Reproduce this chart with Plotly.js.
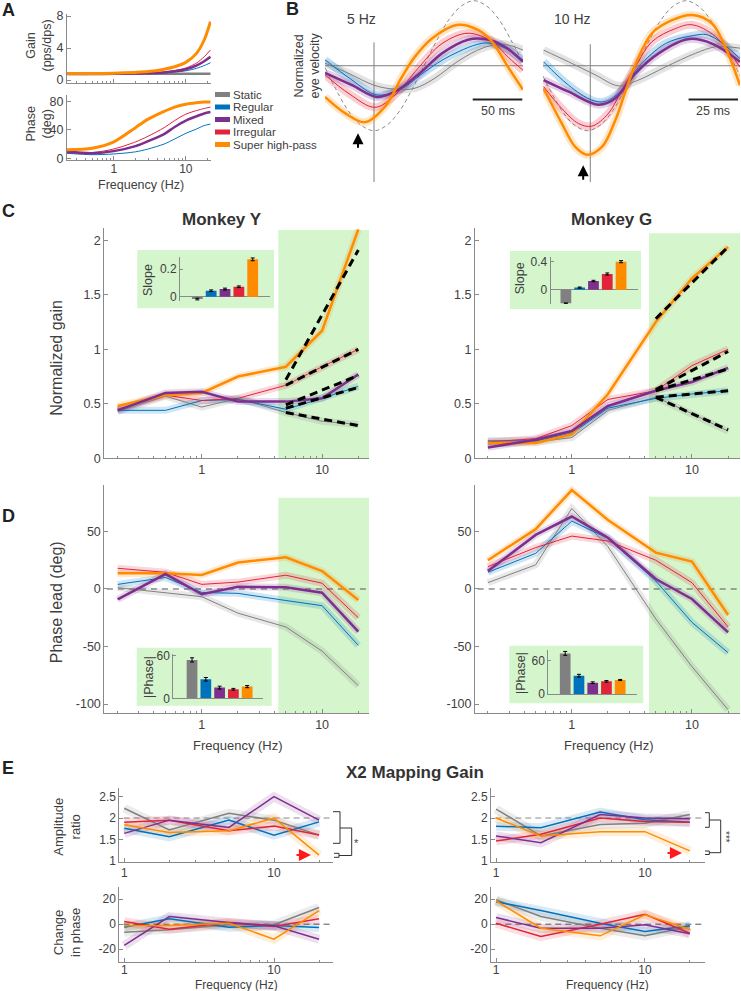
<!DOCTYPE html>
<html><head><meta charset="utf-8">
<script src="https://cdn.plot.ly/plotly-3.0.1.min.js"></script>
<style>html,body{margin:0;padding:0;background:#fff;} #chart{width:741px;height:991px;}</style>
</head><body><div id="chart"></div>
<script>
// ---------------- DATA ----------------
const groups = ['Static','Regular','Mixed','Irregular','Super high-pass'];
const colors = ['#808080','#0072BD','#7E2F8E','#E2233A','#FF8C00'];

// Panel A: model gain / phase
const freqA = [0.22,0.5,1,2,3,5,7,10,14,18,22];
const gainA_static    = [0.78,0.78,0.78,0.78,0.78,0.78,0.78,0.78,0.78,0.78,0.78];
const gainA_regular   = [0.8,0.8,0.8,0.82,0.85,0.9,1.0,1.15,1.45,1.8,2.15];
const gainA_mixed     = [0.75,0.75,0.78,0.8,0.85,0.95,1.08,1.35,1.8,2.35,2.9];
const gainA_irregular = [0.8,0.8,0.82,0.85,0.9,1.0,1.18,1.5,2.1,2.9,3.75];
const gainA_super     = [0.8,0.8,0.85,0.95,1.05,1.35,1.65,2.2,3.3,5.0,7.3];
const phaseA_regular   = [7,5,6,9,13,20,27,35,41,46,48];
const phaseA_mixed     = [9,7,10,17,24,34,44,53,59,63,65];
const phaseA_irregular = [9,8,13,23,31,43,53,62,67,70,72];
const phaseA_super     = [12,14,23,43,55,66,72,76,78,79,79];

// Panel B: normalized eye velocity traces (time in ms)
const b5_t_static = [-49,-25,0,20,40,60,85,110,130,149];
const b5_y_static = [0.04,-0.12,-0.3,-0.36,-0.35,-0.2,0.08,0.28,0.33,0.24];
const b5_t_regular = [-49,-22,3,28,51,77,111,130,149];
const b5_y_regular = [0.09,-0.22,-0.45,-0.35,-0.09,0.16,0.35,0.28,0.09];
const b5_t_mixed = [-49,-22,3,21,44,68,94,111,130,149];
const b5_y_mixed = [-0.11,-0.3,-0.48,-0.4,-0.14,0.19,0.4,0.41,0.3,0.06];
const b5_t_irregular = [-49,-25,1,21,44,68,94,118,135,149];
const b5_y_irregular = [-0.14,-0.43,-0.64,-0.45,-0.04,0.34,0.5,0.37,0.12,-0.07];
const b5_t_super = [-49,-29,-9,11,28,41,58,84,104,118,134,149];
const b5_y_super = [-0.48,-0.73,-0.87,-0.63,-0.17,0.14,0.42,0.63,0.55,0.37,-0.02,-0.37];
const b5_t_stim = [-49,-37.5,-25,-12.5,0,12.5,25,37.5,50,62.5,75,87.5,100,112.5,125,137.5,149];
const b5_y_stim = [-0.03,-0.38,-0.71,-0.92,-1,-0.92,-0.71,-0.38,0,0.38,0.71,0.92,1,0.92,0.71,0.38,0.03];

const b10_t_static = [-23.7,-11,2.5,14.4,24.5,38.1,53.3,63.5,76];
const b10_y_static = [0.24,0.06,-0.14,-0.31,-0.22,-0.02,0.19,0.29,0.27];
const b10_t_regular = [-23.7,-11,0.8,7.6,16.1,24.5,38.1,50,60.1,76];
const b10_y_regular = [0.06,-0.3,-0.53,-0.55,-0.37,-0.02,0.34,0.45,0.47,0.11];
const b10_t_mixed = [-23.7,-11,4.2,12.7,22.8,34.7,49.9,61.8,76];
const b10_y_mixed = [-0.22,-0.4,-0.6,-0.5,-0.12,0.19,0.41,0.34,0.06];
const b10_t_irregular = [-23.7,-14.4,-5.9,0.8,9.3,16.1,22.8,31.3,43.1,51.6,63.5,76];
const b10_y_irregular = [-0.32,-0.66,-0.89,-0.93,-0.73,-0.37,-0.02,0.37,0.57,0.63,0.45,-0.02];
const b10_t_super = [-23.7,-14.4,-7.6,-1.7,5.9,12.7,17.8,22.8,31.3,41.5,51.6,61.8,68.5,76];
const b10_y_super = [-0.35,-0.89,-1.25,-1.37,-1.25,-0.84,-0.4,0.01,0.5,0.7,0.78,0.65,0.29,-0.3];
const b10_t_stim = [-24,-14,-7.75,-1.5,4.75,11,17.25,23.5,29.75,36,42.25,48.5,54.75,61,67.25,73.5,76];
const b10_y_stim = [-0.16,-0.71,-0.92,-1,-0.92,-0.71,-0.38,0,0.38,0.71,0.92,1,0.92,0.71,0.38,0,-0.16];

// Panel C: normalized gain
const freqCD = [0.2,0.5,1,2,5,10,20];
const gainY_static    = [0.43,0.57,0.47,0.55,0.42,0.34,0.31];
const gainY_regular   = [0.44,0.44,0.53,0.54,0.45,0.55,0.66];
const gainY_mixed     = [0.44,0.6,0.61,0.52,0.52,0.55,0.77];
const gainY_irregular = [0.45,0.58,0.53,0.55,0.67,0.84,1.0];
const gainY_super     = [0.48,0.58,0.6,0.75,0.84,1.17,2.1];
const gainG_static    = [0.13,0.15,0.19,0.44,0.56,0.41,0.25];
const gainG_regular   = [0.16,0.16,0.23,0.46,0.55,0.59,0.62];
const gainG_mixed     = [0.1,0.17,0.25,0.48,0.62,0.7,0.83];
const gainG_irregular = [0.15,0.18,0.3,0.54,0.62,0.85,1.0];
const gainG_super     = [0.14,0.14,0.22,0.59,1.25,1.65,1.94];
const fitFreq = [5,20];
const fitY = [[0.42,0.3],[0.46,0.65],[0.49,0.76],[0.67,1.0],[0.72,1.91]];
const fitG = [[0.56,0.26],[0.56,0.62],[0.62,0.82],[0.63,0.98],[1.28,1.94]];
const slopeY = [-0.017,0.043,0.055,0.072,0.27];
const slopeY_err = [0.006,0.006,0.007,0.006,0.01];
const slopeG = [-0.195,0.03,0.124,0.224,0.4];
const slopeG_err = [0.006,0.008,0.01,0.015,0.015];

// Panel D: phase lead
const phaseY_static    = [1.2,-3.2,-6.7,-21,-33,-54,-84];
const phaseY_regular   = [4,10,-3,-3.8,-10,-14.5,-49];
const phaseY_mixed     = [-9,13,-4.6,2,1.5,-3.2,-37];
const phaseY_irregular = [18,14.5,4,6,12,5,-25];
const phaseY_super     = [13.6,13.6,12.2,23,27.5,15.6,-9.6];
const phaseG_static    = [5.5,21,70,36.8,-26,-67.5,-105];
const phaseG_regular   = [14.5,31,59,44,7,-29,-55.4];
const phaseG_mixed     = [15.6,47,63,44.6,8.7,-8.7,-37.7];
const phaseG_irregular = [19.4,36,46,41.7,25,5.5,-33];
const phaseG_super     = [25,52,86,60,31.6,23.8,-22.6];
const absPhaseY = [53.9,26.7,15,12.7,16.4];
const absPhaseY_err = [3,2.5,2,1.2,1.5];
const absPhaseG = [73.2,33,20.4,22.8,25.2];
const absPhaseG_err = [3.5,2.5,1.5,1.5,1];

// Panel E: X2 mapping gain
const freqE = [1,2,5,10,20];
const ampY_static    = [2.23,1.72,2.11,1.95,1.6];
const ampY_regular   = [1.76,1.56,1.95,1.6,1.91];
const ampY_mixed     = [1.64,1.95,1.78,2.5,1.95];
const ampY_irregular = [1.9,1.95,1.7,1.81,1.6];
const ampY_super     = [1.84,1.66,1.7,2.0,1.13];
const dphY_static    = [-6.4,-4.5,-0.5,-0.5,13.3];
const dphY_regular   = [-2.4,4.3,-2.4,-1,-2.7];
const dphY_mixed     = [-17,6.1,1.3,-1.3,-12];
const dphY_irregular = [2.1,-4,1.3,-1.9,4.3];
const dphY_super     = [-1.3,-1,0.8,-12,10.9];
const ampG_static    = [2.21,1.58,1.85,1.88,2.08];
const ampG_regular   = [1.81,1.77,2.14,1.96,1.9];
const ampG_mixed     = [1.58,1.42,2.08,2.0,1.98];
const ampG_irregular = [1.46,1.62,2.0,1.92,1.9];
const ampG_super     = [2.0,1.58,1.68,1.68,1.23];
const dphG_static    = [19.5,6.1,-3.2,-9.3,-1.9];
const dphG_regular   = [18,10.9,0.8,-5.9,-1.3];
const dphG_mixed     = [5.3,-3.2,-3.2,-0.5,-7.7];
const dphG_irregular = [0.8,-9.9,0,8,-7.2];
const dphG_super     = [18.7,-3.2,-9.3,7.5,-4];

// ---------------- HELPERS ----------------
const W=741,H=991;
const X=p=>p/W, Y=p=>1-p/H;
const xd=(a,b)=>[X(a),X(b)];
const yd=(t,b)=>[Y(b),Y(t)];
const FONT='Liberation Sans, Arial, sans-serif';
function rgba(hex,a){const n=parseInt(hex.slice(1),16);return 'rgba('+(n>>16)+','+((n>>8)&255)+','+(n&255)+','+a+')';}
const xn=n=>n===1?'x':'x'+n, yn=n=>n===1?'y':'y'+n;
const traces=[];
function addLine(n,x,y,color,width,extra){
  traces.push(Object.assign({type:'scatter',mode:'lines',x:x,y:y,xaxis:xn(n),yaxis:yn(n),
    line:{color:color,width:width},hoverinfo:'skip',showlegend:false},extra||{}));
}
function addSeries(n,x,ys,widths,order,band,shape){
  const sh=shape||'linear';
  if(band){ order.forEach(i=>addLine(n,x,ys[i],rgba(colors[i],band.op),band.w,{line:{color:rgba(colors[i],band.op),width:band.w,shape:sh}})); }
  order.forEach(i=>addLine(n,x,ys[i],colors[i],widths[i],{line:{color:colors[i],width:widths[i],shape:sh,smoothing:0.8}}));
}
function addBars(n,vals,errs){
  traces.push({type:'bar',x:groups,y:vals,xaxis:xn(n),yaxis:yn(n),width:0.78,
    marker:{color:colors,line:{width:0}},
    error_y:{type:'data',array:errs,visible:true,color:'#000',thickness:1,width:2},
    hoverinfo:'skip',showlegend:false});
}

// ---------------- TRACES ----------------
// A
addSeries(1,freqA,[gainA_static,gainA_regular,gainA_mixed,gainA_irregular,gainA_super],[2.5,1,2.5,1,3],[0,1,3,2,4],null,'spline');
addSeries(2,freqA,[[],phaseA_regular,phaseA_mixed,phaseA_irregular,phaseA_super],[2.5,1,2.5,1,3],[1,3,2,4],null,'spline');

// B
addLine(3,b5_t_stim,b5_y_stim,'#8c8c8c',1,{line:{color:'#8c8c8c',width:1,dash:'4px,3px',shape:'spline'}});
const b5t=[b5_t_static,b5_t_regular,b5_t_mixed,b5_t_irregular,b5_t_super];
const b5y=[b5_y_static,b5_y_regular,b5_y_mixed,b5_y_irregular,b5_y_super];
const b10t=[b10_t_static,b10_t_regular,b10_t_mixed,b10_t_irregular,b10_t_super];
const b10y=[b10_y_static,b10_y_regular,b10_y_mixed,b10_y_irregular,b10_y_super];
const bw=[1,1,2.5,1,2.5], bOrder=[0,1,3,2,4];
bOrder.forEach(i=>addLine(3,b5t[i],b5y[i],rgba(colors[i],0.22),8,{line:{color:rgba(colors[i],0.22),width:8,shape:'spline'}}));
bOrder.forEach(i=>addLine(3,b5t[i],b5y[i],colors[i],bw[i],{line:{color:colors[i],width:bw[i],shape:'spline'}}));
addLine(4,b10_t_stim,b10_y_stim,'#8c8c8c',1,{line:{color:'#8c8c8c',width:1,dash:'4px,3px',shape:'spline'}});
bOrder.forEach(i=>addLine(4,b10t[i],b10y[i],rgba(colors[i],0.22),8,{line:{color:rgba(colors[i],0.22),width:8,shape:'spline'}}));
bOrder.forEach(i=>addLine(4,b10t[i],b10y[i],colors[i],bw[i],{line:{color:colors[i],width:bw[i],shape:'spline'}}));

// C
const cw=[1,1,2.5,1,2.5], cOrder=[0,1,3,4,2], cBand={w:7,op:0.18};
addSeries(5,freqCD,[gainY_static,gainY_regular,gainY_mixed,gainY_irregular,gainY_super],cw,cOrder,cBand);
fitY.forEach(f=>addLine(5,fitFreq,f,'#000',3,{line:{color:'#000',width:3,dash:'8px,5px'}}));
addBars(6,slopeY,slopeY_err);
addSeries(7,freqCD,[gainG_static,gainG_regular,gainG_mixed,gainG_irregular,gainG_super],cw,cOrder,cBand);
fitG.forEach(f=>addLine(7,fitFreq,f,'#000',3,{line:{color:'#000',width:3,dash:'8px,5px'}}));
addBars(8,slopeG,slopeG_err);

// D
addSeries(9,freqCD,[phaseY_static,phaseY_regular,phaseY_mixed,phaseY_irregular,phaseY_super],cw,cOrder,cBand);
addBars(10,absPhaseY,absPhaseY_err);
addSeries(11,freqCD,[phaseG_static,phaseG_regular,phaseG_mixed,phaseG_irregular,phaseG_super],cw,cOrder,cBand);
addBars(12,absPhaseG,absPhaseG_err);

// E
const ew=[1.5,1.5,1.5,1.5,1.5], eOrder=[0,1,3,2,4], eBand={w:9,op:0.15};
addSeries(13,freqE,[ampY_static,ampY_regular,ampY_mixed,ampY_irregular,ampY_super],ew,eOrder,eBand);
addSeries(14,freqE,[dphY_static,dphY_regular,dphY_mixed,dphY_irregular,dphY_super],ew,eOrder,eBand);
addSeries(15,freqE,[ampG_static,ampG_regular,ampG_mixed,ampG_irregular,ampG_super],ew,eOrder,eBand);
addSeries(16,freqE,[dphG_static,dphG_regular,dphG_mixed,dphG_irregular,dphG_super],ew,eOrder,eBand);

// ---------------- LAYOUT ----------------
const AX='#8a8a8a', TXT='#404040';
const base={showline:true,linecolor:AX,linewidth:1,ticks:'inside',ticklen:4,tickcolor:AX,
  tickfont:{family:FONT,size:12.5,color:TXT},showgrid:false,zeroline:false,fixedrange:true};
const minor={ticks:'inside',ticklen:2,tickcolor:AX,dtick:'D1',showgrid:false};
const layout={width:W,height:H,margin:{l:0,r:0,t:0,b:0},paper_bgcolor:'#fff',plot_bgcolor:'rgba(0,0,0,0)',
  showlegend:false,font:{family:FONT,color:TXT},shapes:[],annotations:[]};
function setAx(n,xo,yo){
  layout[n===1?'xaxis':'xaxis'+n]=Object.assign({},base,{anchor:yn(n)},xo);
  layout[n===1?'yaxis':'yaxis'+n]=Object.assign({},base,{anchor:xn(n)},yo);
}
const logx=(dom,rng,lab,fs)=>({domain:dom,type:'log',range:rng,dtick:1,showticklabels:lab!==false,minor:minor,
  tickfont:{family:FONT,size:fs||12.5,color:TXT}});
const yt=(dom,rng,vals,fs)=>({domain:dom,range:rng,tickmode:'array',tickvals:vals,ticktext:vals.map(v=>String(v)),tickfont:{family:FONT,size:fs||12.5,color:TXT}});
// A
setAx(1,logx(xd(67,211),[-0.65,1.35],false),yt(yd(14,83),[-0.375,8.25],[0,4,8]));
setAx(2,Object.assign(logx(xd(67,211),[-0.65,1.35],true,12),{ticklabelstandoff:-2}),yt(yd(95,160),[-2.5,89],[0,40,80]));
// B
const hid={visible:false};
setAx(3,Object.assign({domain:xd(325,523),range:[-49,149]},hid),Object.assign({domain:yd(0,185),range:[-1.835,1.011]},hid));
setAx(4,Object.assign({domain:xd(543,740),range:[-24,76]},hid),Object.assign({domain:yd(0,185),range:[-1.835,1.011]},hid));
// C
setAx(5,logx(xd(104.3,369),[-0.81,1.39]),yt(yd(228.3,458.3),[0,2.11],[0,0.5,1,1.5,2]));
const insX=(dom,rng,line)=>({domain:dom,range:rng,type:'category',showline:!!line,ticks:'',showticklabels:false});
setAx(6,insX(xd(180,270),[-1.25,5.25]),Object.assign(yt(yd(256.7,301),[-0.031,0.289],[0,0.2],12),{zeroline:true,zerolinecolor:AX,zerolinewidth:1,ticklen:3}));
setAx(7,logx(xd(475,740),[-0.806,1.40]),yt(yd(228.3,458.3),[0,2.11],[0,0.5,1,1.5,2]));
setAx(8,insX(xd(550.7,638.3),[-1.1,5.25]),Object.assign(yt(yd(256.7,304),[-0.204,0.471],[0,0.4],12),{zeroline:true,zerolinecolor:AX,zerolinewidth:1,ticklen:3}));
// D
setAx(9,logx(xd(104.3,369),[-0.81,1.39]),yt(yd(485,713),[-107.8,90.4],[-100,-50,0,50]));
setAx(10,insX(xd(173.3,263.3),[-1.36,5.17],true),Object.assign(yt(yd(654.3,698.3),[0,61.8],[0,60],12),{ticklen:3}));
setAx(11,logx(xd(475,740),[-0.806,1.40]),yt(yd(485,713),[-107.8,90.4],[-100,-50,0,50]));
setAx(12,insX(xd(548.3,636.7),[-1.23,5.2],true),Object.assign(yt(yd(650,694),[0,79.3],[0,60],12),{ticklen:3}));
// E
setAx(13,logx(xd(119.3,333.3),[-0.033,1.396],true,12),yt(yd(787.7,861.7),[0.977,2.71],[1,1.5,2,2.5],12));
setAx(14,Object.assign(logx(xd(119.3,333.3),[-0.033,1.396],true,12),{ticklabelstandoff:-3}),yt(yd(886.7,961.7),[-30,30],[-20,0,20],12));
setAx(15,logx(xd(491,705),[-0.034,1.403],true,12),yt(yd(787.7,861.7),[0.977,2.71],[1,1.5,2,2.5],12));
setAx(16,Object.assign(logx(xd(491,705),[-0.034,1.403],true,12),{ticklabelstandoff:-3}),yt(yd(886.7,961.7),[-30,30],[-20,0,20],12));

// shapes
const S=layout.shapes;
const GREEN='#D5F5CD';
function prect(x0,y0,x1,y1){S.push({type:'rect',xref:'paper',yref:'paper',x0:X(x0),x1:X(x1),y0:Y(y1),y1:Y(y0),fillcolor:GREEN,line:{width:0},layer:'below'});}
prect(278.3,230,369,458.3); prect(649,233.3,740,458.3);
prect(278.3,497.7,369,713); prect(649,496.7,740,713);
prect(137.3,250,274,308.3); prect(510,251,641,309);
prect(136.7,647.7,271.7,705.7); prect(509.3,645.7,643.3,703.3);
function hline(n,yv,x0,x1,color,dash){S.push({type:'line',xref:xn(n)+' domain',yref:yn(n),x0:x0,x1:x1,y0:yv,y1:yv,line:{color:color,width:1,dash:dash||'solid'},layer:'below'});}
// B reference lines
hline(3,0,0,1,'#808080'); hline(4,0,0,1,'#808080');
S.push({type:'line',xref:'x3',yref:'y3',x0:0,x1:0,y0:0.36,y1:-1.79,line:{color:'#808080',width:1},layer:'below'});
S.push({type:'line',xref:'x4',yref:'y4',x0:0,x1:0,y0:0.33,y1:-1.79,line:{color:'#808080',width:1},layer:'below'});
S.push({type:'line',xref:'x3',yref:'y3',x0:98.7,x1:148.3,y0:-0.52,y1:-0.52,line:{color:'#222',width:2}});
S.push({type:'line',xref:'x4',yref:'y4',x0:49.9,x1:75,y0:-0.52,y1:-0.52,line:{color:'#222',width:2}});
// dashed references
hline(9,0,0.01,0.99,'#555','6px,5px'); hline(11,0,0.01,0.99,'#555','6px,5px');
hline(13,2,0.02,0.99,'#8a8a8a','6px,4px'); hline(15,2,0.02,0.99,'#8a8a8a','6px,4px');
hline(14,0,0.02,0.99,'#555','6px,4px'); hline(16,0,0.02,0.99,'#555','6px,4px');
// legend markers (A)
const legY=[94.5,107,119.5,132,144.5];
legY.forEach((yy,i)=>S.push({type:'line',xref:'paper',yref:'paper',x0:X(215),x1:X(230),y0:Y(yy),y1:Y(yy),line:{color:colors[i],width:5}}));
// significance brackets (E)
function ppath(pts){return pts.map((p,k)=>(k?'L':'M')+X(p[0])+','+Y(p[1])).join(' ');}
function pline(pts){S.push({type:'path',xref:'paper',yref:'paper',path:ppath(pts),line:{color:'#333',width:1}});}
pline([[333,811.7],[340,811.7],[340,843.3],[333,843.3]]);
pline([[334,853.3],[339,853.3],[339,857.3],[334,857.3]]);
pline([[340,828],[351.7,828],[351.7,855.5],[339,855.5]]);
pline([[705,812.7],[709.3,812.7],[709.3,827.3],[705,827.3]]);
pline([[705,851],[709.3,851],[709.3,854.5],[705,854.5]]);
pline([[709.3,820],[720.7,820],[720.7,852.7],[709.3,852.7]]);

// annotations
const A=layout.annotations;
function txt(t,x,y,size,opt){A.push(Object.assign({text:t,xref:'paper',yref:'paper',x:X(x),y:Y(y),showarrow:false,
  xanchor:'center',yanchor:'middle',font:{family:FONT,size:size,color:TXT}},opt||{}));}
const bold=(s)=>'<b>'+s+'</b>';
const PL={family:FONT,size:18,color:'#222'};
txt(bold('A'),0,10,18,{xanchor:'left',font:PL});
txt(bold('B'),284,9,18,{xanchor:'left',font:PL});
txt(bold('C'),0,211,18,{xanchor:'left',font:PL});
txt(bold('D'),0,516,18,{xanchor:'left',font:PL});
txt(bold('E'),0,768,18,{xanchor:'left',font:PL});
txt('Gain<br>(pps/dps)',38.5,46,12.5,{textangle:-90});
txt('Phase<br>(deg)',38.5,124,12.5,{textangle:-90});
txt('Frequency (Hz)',141,184.5,12.5);
groups.forEach((g,i)=>txt(g,232,legY[i],11.5,{xanchor:'left',borderpad:0}));
txt('5 Hz',361,18.5,14); txt('10 Hz',572,18.5,14);
txt('Normalized<br>eye velocity',306.5,66,12.5,{textangle:-90});
txt('50 ms',498,111,12.5); txt('25 ms',713,111,12.5);
txt(bold('Monkey Y'),222,219,17,{font:{family:FONT,size:17,color:'#333'}});
txt(bold('Monkey G'),611,219,17,{font:{family:FONT,size:17,color:'#333'}});
txt('Normalized gain',56.7,358,16,{textangle:-90});
txt('Slope',148,280,12.5,{textangle:-90}); txt('Slope',520,278.3,12.5,{textangle:-90});
txt('Phase lead (deg)',56.7,602.5,16,{textangle:-90});
txt('|Phase|',148.3,676.7,12.5,{textangle:-90}); txt('|Phase|',521.7,673.3,12.5,{textangle:-90});
txt('Frequency (Hz)',238,745,13); txt('Frequency (Hz)',608.5,745,13);
txt(bold('X2 Mapping Gain'),415,772,17,{font:{family:FONT,size:17,color:'#333'}});
txt('Amplitude<br>ratio',67,826.7,13,{textangle:-90});
txt('Change<br>in phase',67,933,13,{textangle:-90});
txt('Frequency (Hz)',236,984.5,12,{borderpad:0}); txt('Frequency (Hz)',607,984.5,12,{borderpad:0});
txt('*',356,843,11); txt('***',726,837,10,{textangle:90});
// arrows
function arrow(xr,yr,x,y,ax,ay,color,w){A.push({text:'',xref:xr,yref:yr,x:x,y:y,ax:ax,ay:ay,showarrow:true,arrowhead:2,arrowsize:1.1,arrowwidth:w,arrowcolor:color});}
arrow('x3','y3',-16,-1.04,0,16,'#000',2);
arrow('x4','y4',-3.6,-1.53,0,16,'#000',2);
arrow('paper','paper',X(311),Y(855),-16,0,'#ff1a1a',2.2);
arrow('paper','paper',X(682),Y(853),-16,0,'#ff1a1a',2.2);

Plotly.newPlot('chart',traces,layout,{staticPlot:true,displayModeBar:false});
</script></body></html>
